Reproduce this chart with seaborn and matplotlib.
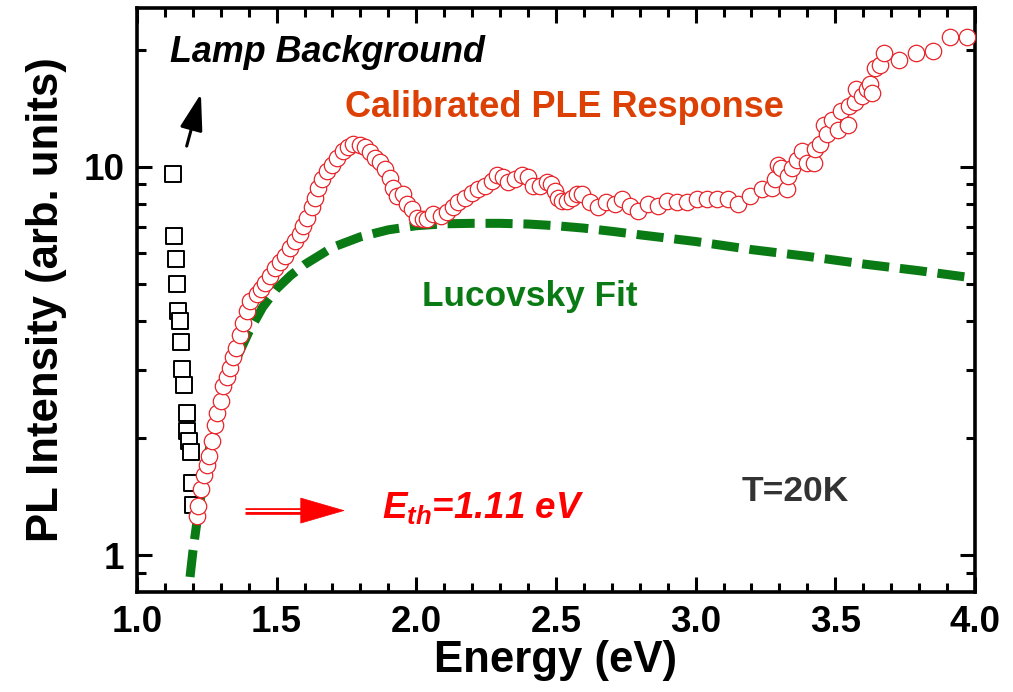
import numpy as np
import pandas as pd
import matplotlib
matplotlib.use("Agg")
import matplotlib.pyplot as plt
import seaborn as sns
from matplotlib.ticker import LogLocator, MultipleLocator, NullFormatter, FixedLocator, FixedFormatter

# Calibrated PLE response (red open circles)
ple_energy = [1.214, 1.220, 1.229, 1.240, 1.252, 1.259, 1.267, 1.279, 1.288, 1.300,
              1.309, 1.321, 1.333, 1.345, 1.354, 1.369, 1.380, 1.393, 1.405, 1.428,
              1.443, 1.458, 1.476, 1.494, 1.512, 1.530, 1.548, 1.566, 1.584, 1.595,
              1.608, 1.625, 1.637, 1.649, 1.661, 1.679, 1.697, 1.715, 1.739, 1.757,
              1.774, 1.798, 1.816, 1.834, 1.852, 1.870, 1.888, 1.906, 1.918, 1.930,
              1.953, 1.966, 1.983, 2.001, 2.025, 2.037, 2.060, 2.090, 2.109, 2.132,
              2.150, 2.174, 2.198, 2.222, 2.246, 2.270, 2.288, 2.312, 2.330, 2.354,
              2.377, 2.400, 2.419, 2.443, 2.467, 2.484, 2.496, 2.508, 2.520, 2.538,
              2.556, 2.574, 2.592, 2.622, 2.651, 2.681, 2.711, 2.735, 2.765, 2.795,
              2.831, 2.866, 2.896, 2.932, 2.968, 3.004, 3.040, 3.075, 3.117, 3.153,
              3.195, 3.236, 3.272, 3.284, 3.296, 3.307, 3.326, 3.332, 3.344, 3.362,
              3.381, 3.399, 3.423, 3.429, 3.447, 3.460, 3.472, 3.490, 3.509, 3.521,
              3.545, 3.551, 3.569, 3.576, 3.594, 3.612, 3.625, 3.630, 3.643, 3.661,
              3.674, 3.729, 3.789, 3.850, 3.911, 3.973]
ple_intensity = [1.26, 1.34, 1.48, 1.61, 1.71, 1.80, 1.97, 2.17, 2.33, 2.50,
                 2.73, 2.87, 3.04, 3.23, 3.42, 3.70, 3.97, 4.25, 4.51, 4.70,
                 4.84, 5.03, 5.24, 5.50, 5.67, 5.90, 6.19, 6.45, 6.71, 7.05,
                 7.40, 7.86, 8.33, 8.84, 9.29, 9.77, 10.13, 10.55, 10.99, 11.22,
                 11.44, 11.37, 11.22, 10.89, 10.55, 10.27, 9.85, 9.38, 8.84, 8.43,
                 8.50, 8.04, 7.80, 7.40, 7.33, 7.33, 7.55, 7.47, 7.64, 7.86,
                 8.10, 8.33, 8.58, 8.76, 8.94, 9.21, 9.50, 9.40, 9.12, 9.30,
                 9.50, 9.40, 8.94, 8.94, 9.12, 9.03, 8.66, 8.33, 8.17, 8.17,
                 8.33, 8.50, 8.50, 8.10, 7.86, 8.10, 8.02, 8.25, 7.93, 7.70,
                 8.02, 7.93, 8.17, 8.10, 8.10, 8.25, 8.25, 8.25, 8.25, 8.02,
                 8.43, 8.76, 8.84, 9.30, 10.13, 9.94, 8.78, 9.46, 9.94, 10.43,
                 10.98, 10.23, 10.23, 11.10, 11.44, 12.80, 12.15, 13.20, 12.40, 13.90,
                 12.80, 14.30, 14.70, 15.80, 15.20, 15.80, 16.30, 15.50, 17.90, 18.30,
                 19.60, 18.80, 19.60, 19.80, 21.50, 21.50]

# Lamp background (black open squares)
lamp_energy = [1.128, 1.132, 1.139, 1.142, 1.148, 1.154, 1.158, 1.163, 1.168, 1.178,
               1.180, 1.186, 1.193, 1.196, 1.202]
lamp_intensity = [9.57, 6.64, 5.79, 5.00, 4.25, 4.01, 3.53, 3.01, 2.75, 2.33,
                  2.09, 1.97, 1.84, 1.54, 1.35]

# Lucovsky fit (green dashed)
fit_energy = [1.19, 1.20, 1.22, 1.25, 1.28, 1.32, 1.36, 1.40, 1.45, 1.50,
              1.55, 1.60, 1.70, 1.80, 1.90, 2.00, 2.10, 2.20, 2.30, 2.40,
              2.50, 2.60, 2.70, 2.80, 2.90, 3.00, 3.20, 3.40, 3.60, 3.80, 3.97]
fit_intensity = [0.88, 1.02, 1.30, 1.75, 2.20, 2.75, 3.25, 3.75, 4.35, 4.85,
                 5.25, 5.60, 6.20, 6.60, 6.88, 7.05, 7.13, 7.15, 7.15, 7.12,
                 7.05, 6.95, 6.82, 6.68, 6.55, 6.42, 6.12, 5.88, 5.62, 5.40, 5.20]

x_ticks = [1.0, 1.5, 2.0, 2.5, 3.0, 3.5, 4.0]
y_ticks = [1, 10]
y_tick_labels = ["1", "10"]

sns.set_style("ticks", rc={"text.color": "black", "axes.labelcolor": "black",
                           "xtick.color": "black", "ytick.color": "black",
                           "axes.edgecolor": "black"})
plt.rcParams["font.family"] = ["Liberation Sans", "DejaVu Sans"]
plt.rcParams["mathtext.fontset"] = "custom"
plt.rcParams["mathtext.it"] = "Liberation Sans:italic:bold"
plt.rcParams["mathtext.rm"] = "Liberation Sans:bold"

ple = pd.DataFrame({"energy": ple_energy, "intensity": ple_intensity})
lamp = pd.DataFrame({"energy": lamp_energy, "intensity": lamp_intensity})
fit = pd.DataFrame({"energy": fit_energy, "intensity": fit_intensity})

fig = plt.figure(figsize=(10.13, 6.92), dpi=100)
ax = fig.add_axes([0.1352, 0.1445, 0.8272, 0.8439])

green = "#0a7a14"
sns.lineplot(data=fit, x="energy", y="intensity", ax=ax, color=green,
             linewidth=6.5, zorder=2)
ax.lines[-1].set_dashes([3, 1.2])
ax.lines[-1].set_dash_capstyle("butt")

sns.scatterplot(data=lamp, x="energy", y="intensity", ax=ax, marker="s", s=135,
                facecolor="white", edgecolor="black", linewidth=1.4, zorder=3)
sns.scatterplot(data=ple, x="energy", y="intensity", ax=ax, marker="o", s=140,
                facecolor="white", edgecolor="#e8242a", linewidth=0.9, zorder=4)

ax.set_yscale("log")
ax.set_xlim(1.0, 4.0)
ax.set_ylim(0.805, 25.6)

ax.xaxis.set_major_locator(FixedLocator(x_ticks))
ax.xaxis.set_major_formatter(FixedFormatter([f"{t:.1f}" for t in x_ticks]))
ax.xaxis.set_minor_locator(MultipleLocator(0.1))
ax.yaxis.set_major_locator(FixedLocator(y_ticks))
ax.yaxis.set_major_formatter(FixedFormatter(y_tick_labels))
ax.yaxis.set_minor_locator(LogLocator(base=10, subs=range(2, 10)))
ax.yaxis.set_minor_formatter(NullFormatter())

for s in ax.spines.values():
    s.set_linewidth(2.6)
    s.set_visible(True)
    s.set_color("black")
ax.tick_params(which="both", direction="in", top=True, right=True, width=2.2, color="black",
               labelcolor="black")
ax.tick_params(which="major", length=11, labelsize=26.5, pad=9)
ax.tick_params(which="minor", length=6.5)
for lab in ax.get_xticklabels() + ax.get_yticklabels():
    lab.set_fontweight("bold")

ax.set_xlabel("Energy (eV)", fontsize=31.5, fontweight="bold", labelpad=0, color="black")
ax.set_ylabel("PL Intensity (arb. units)", fontsize=31.5, fontweight="bold", labelpad=12,
              color="black")

ax.text(1.118, 18.6, "Lamp Background", fontsize=25.8, fontweight="bold", style="italic",
        ha="left", va="baseline", color="black")
ax.annotate("", xy=(1.229, 15.4), xytext=(1.178, 11.3),
            arrowprops=dict(arrowstyle="-|>,head_length=1.6,head_width=0.5",
                            color="black", lw=2.2, mutation_scale=14,
                            shrinkA=0, shrinkB=0))
ax.text(1.745, 13.43, "Calibrated PLE Response", fontsize=26, fontweight="bold",
        color="#dd4005", ha="left", va="baseline")
ax.text(2.019, 4.38, "Lucovsky Fit", fontsize=25.4, fontweight="bold", color=green,
        ha="left", va="baseline")
ax.text(3.165, 1.377, "T=20K", fontsize=25.5, fontweight="bold", color="#333333",
        ha="left", va="baseline")
ax.text(1.876, 1.249, r"$E_{th}$=1.11 eV", fontsize=26.5, fontweight="bold", style="italic",
        color="#ff0000", ha="left", va="baseline")

# double-line threshold arrow
ax.plot([1.387, 1.595], [1.304, 1.304], color="#ff0000", lw=4.8, solid_capstyle="butt", zorder=5)
ax.plot([1.385, 1.595], [1.304, 1.304], color="white", lw=1.5, solid_capstyle="butt", zorder=6)
ax.annotate("", xy=(1.745, 1.304), xytext=(1.59, 1.304),
            arrowprops=dict(arrowstyle="-|>,head_length=3.1,head_width=0.9",
                            color="#ff0000", lw=0.5, mutation_scale=10,
                            shrinkA=0, shrinkB=0), zorder=7)

fig.savefig("out.png", dpi=100)
